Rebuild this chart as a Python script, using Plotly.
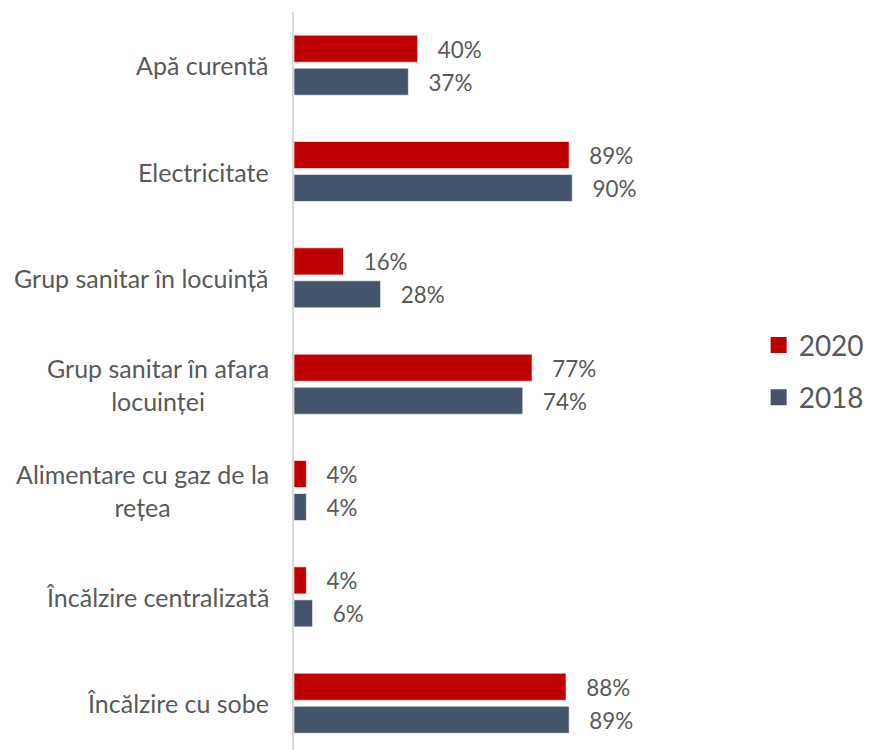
import plotly.graph_objects as go

categories = ["Apă curentă", "Electricitate", "Grup sanitar în locuință",
              "Grup sanitar în afara<br>locuinței", "Alimentare cu gaz de la<br>rețea",
              "Încălzire centralizată", "Încălzire cu sobe"]
v2020 = [40, 89, 16, 77, 4, 4, 88]
v2018 = [37, 90, 28, 74, 4, 6, 89]
series_names = ["2020", "2018"]
colors = ["#C00000", "#44546A"]

FONT = "Lato"
GREY = "#595959"

fig = go.Figure()
for name, vals, col in zip(series_names, [v2020, v2018], colors):
    fig.add_trace(go.Bar(name=name, y=categories, x=vals, orientation="h",
                         marker=dict(color=col, line=dict(color="rgba(255,255,255,0.6)", width=1)),
                         text=[f"\u00a0\u00a0\u00a0{v}%" for v in vals], textposition="outside",
                         textfont=dict(size=24, color=GREY, family=FONT), cliponaxis=False,
                         showlegend=False))
# legend-only entries with larger square symbols
for i, (name, col) in enumerate(zip(series_names, colors)):
    fig.add_trace(go.Scatter(name=name, x=[None], y=[None], mode="markers",
                             marker=dict(symbol="square", size=18, color=col),
                             legendgroup=f"g{i}", showlegend=True))

for c in categories:
    fig.add_annotation(x=-0.075, xref="paper", y=c, yref="y", text=c, showarrow=False,
                       xanchor="right", align="center",
                       font=dict(size=25, color=GREY, family=FONT))

fig.update_layout(
    width=873, height=750,
    margin=dict(l=294, r=272, t=12, b=0, autoexpand=False),
    plot_bgcolor="white", paper_bgcolor="white",
    barmode="group", bargap=0.38, bargroupgap=0.18,
    font=dict(family=FONT, color=GREY),
    legend=dict(xref="container", yref="container", x=0.869, y=0.505, yanchor="middle",
                xanchor="left", font=dict(size=28, color=GREY, family=FONT),
                tracegroupgap=13, bgcolor="rgba(0,0,0,0)"),
)
fig.update_xaxes(range=[0, 99.3], showgrid=False, zeroline=False, showticklabels=False,
                 showline=False)
fig.update_yaxes(range=[6.44, -0.5], showticklabels=False, showgrid=False,
                 showline=True, linecolor="#D9D9D9", linewidth=2, ticks="")

fig.write_html("out.html", post_script="document.body.style.margin='0';",
               config={"displayModeBar": False})
